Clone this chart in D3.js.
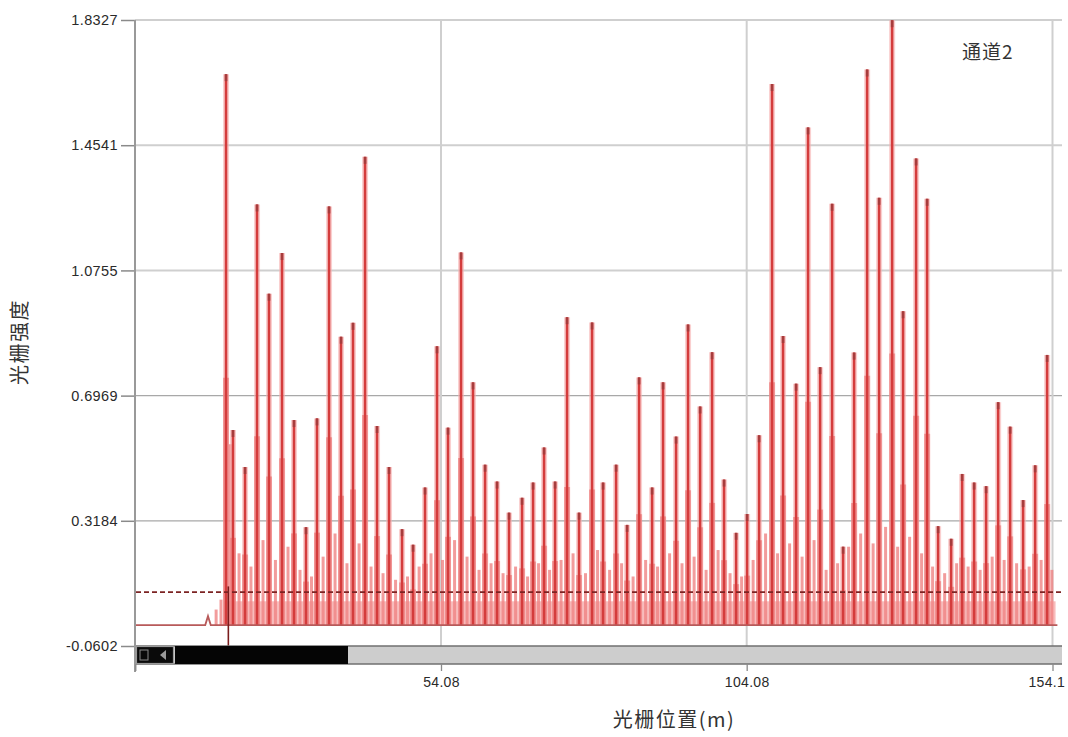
<!DOCTYPE html>
<html><head><meta charset="utf-8">
<script src="https://cdn.jsdelivr.net/npm/d3@7"></script>
<style>body{margin:0;background:#fff}svg{display:block}</style>
</head><body><svg id="c" width="1068" height="737"></svg>
<script>
// ---- data ----
const yTicks = [1.8327, 1.4541, 1.0755, 0.6969, 0.3184, -0.0602];
const yTickLabels = ["1.8327", "1.4541", "1.0755", "0.6969", "0.3184", "-0.0602"];
const xTicks = [4.08, 54.08, 104.08, 154.1];
const xTickLabels = ["", "54.08", "104.08", "154.1"];
const seriesName = "通道2";
const xTitle = "光栅位置(m)";
const yTitle = "光栅强度";
const baseline = 0.003;
const threshold = 0.103;
const peakPos = [18.92,20.06,22.03,23.99,25.95,28.08,30.04,32.00,33.80,35.77,
  37.73,39.69,41.66,43.62,45.58,47.71,49.51,51.47,53.43,55.23,
  57.36,59.32,61.29,63.25,65.21,67.34,69.14,70.94,72.74,74.70,
  76.66,78.79,80.59,82.72,84.52,86.48,88.61,90.40,92.53,94.49,
  96.46,98.42,100.38,102.35,104.15,106.11,108.23,110.03,112.16,114.12,
  116.09,118.05,119.85,121.65,123.78,125.74,127.87,129.66,131.79,133.59,
  135.39,137.52,139.32,141.28,143.24,145.21,147.17,149.29,151.26,153.22];
const peakVal = [1.669,0.593,0.481,1.275,1.005,1.128,0.623,0.299,0.628,1.269,
  0.875,0.917,1.419,0.605,0.481,0.293,0.246,0.419,0.846,0.600,
  1.130,0.737,0.488,0.437,0.343,0.388,0.434,0.540,0.437,0.934,
  0.343,0.918,0.434,0.488,0.306,0.752,0.419,0.737,0.573,0.912,
  0.664,0.828,0.443,0.282,0.339,0.577,1.639,0.877,0.733,1.508,
  0.783,1.277,0.240,0.827,1.683,1.295,1.832,0.952,1.414,1.292,
  0.302,0.264,0.460,0.434,0.423,0.677,0.603,0.381,0.486,0.820];
const minorPos = [17.3,18.1,19.6,21.05,23.0,24.97,27.0,29.06,31.02,32.9,34.8,36.75,38.7,
  40.68,42.64,44.6,46.65,48.6,50.5,52.45,54.33,56.3,58.34,60.3,62.27,64.23,66.28,
  68.24,70.04,71.84,73.72,75.68,77.72,79.69,81.66,83.62,85.5,87.55,89.5,91.47,93.5,
  95.48,97.44,99.4,101.36,103.25,105.13,107.17,109.13,111.1,113.14,115.1,117.07,
  118.95,120.75,122.72,124.76,126.8,128.77,130.73,132.69,134.49,136.46,138.42,
  140.3,142.26,144.23,146.19,148.23,150.28,152.24,154.0];
const minorVal = [0.05,0.08,0.55,0.22,0.18,0.26,0.20,0.24,0.17,0.15,0.21,0.28,0.19,
  0.25,0.18,0.16,0.14,0.15,0.18,0.22,0.20,0.26,0.21,0.17,0.19,0.16,0.18,
  0.15,0.19,0.17,0.20,0.22,0.16,0.23,0.17,0.19,0.15,0.20,0.18,0.22,0.19,
  0.21,0.17,0.23,0.16,0.15,0.20,0.28,0.22,0.25,0.21,0.26,0.17,
  0.19,0.24,0.28,0.25,0.30,0.24,0.27,0.22,0.18,0.16,0.19,
  0.18,0.17,0.21,0.20,0.19,0.18,0.20,0.17];
const bumpPos = [15.97], bumpVal = [0.03];
const dipPos = [19.3], dipVal = [-0.068];
const noiseRange = [18.6, 154.6], noiseLevel = 0.075;

// ---- layout ----
const svg = d3.select("#c");
const x = d3.scaleLinear().domain([4.08, 154.1]).range([135.3, 1052.5]);
const y = d3.scaleLinear().domain([-0.0602, 1.8327]).range([646, 20]);
const plotRight = 1062;
const font = "'Liberation Sans', Arial, sans-serif";
const cjk = "'Noto Sans CJK SC', sans-serif";
const shoulder = 0.45; // lower, wider part of each peak (drawing style)

// horizontal grid
svg.append("g").selectAll("line").data(yTicks.slice(0, 5)).join("line")
  .attr("x1", 135).attr("x2", plotRight)
  .attr("y1", d => y(d)).attr("y2", d => y(d))
  .attr("stroke", (d, i) => i < 3 ? "#cfcfcf" : "#a8a8a8")
  .attr("stroke-width", (d, i) => i < 3 ? 2 : 1.3);
// vertical grid
svg.append("g").selectAll("line").data(xTicks.slice(1)).join("line")
  .attr("x1", d => x(d)).attr("x2", d => x(d))
  .attr("y1", y(1.8327)).attr("y2", y(-0.0602))
  .attr("stroke", "#cfcfcf").attr("stroke-width", 2);

// noise floor band
svg.append("rect")
  .attr("x", x(noiseRange[0])).attr("width", x(noiseRange[1]) - x(noiseRange[0]))
  .attr("y", y(noiseLevel)).attr("height", y(baseline) - y(noiseLevel))
  .attr("fill", "#f8bcbc");

// minor peaks
svg.append("g").selectAll("line").data(minorPos).join("line")
  .attr("x1", d => x(d)).attr("x2", d => x(d))
  .attr("y1", y(baseline)).attr("y2", (d, i) => y(minorVal[i]))
  .attr("stroke", "#f08484").attr("stroke-width", 3).attr("opacity", 0.8);

// major halos
svg.append("g").selectAll("line").data(peakPos).join("line")
  .attr("x1", d => x(d)).attr("x2", d => x(d))
  .attr("y1", y(baseline)).attr("y2", (d, i) => y(peakVal[i]))
  .attr("stroke", "#f7b0b0").attr("stroke-width", 6).attr("opacity", 0.6);
// shoulders
svg.append("g").selectAll("line").data(peakPos).join("line")
  .attr("x1", d => x(d)).attr("x2", d => x(d))
  .attr("y1", y(baseline)).attr("y2", (d, i) => y(peakVal[i] * shoulder))
  .attr("stroke", "#ee7c7c").attr("stroke-width", 6).attr("opacity", 0.7);
// major cores
svg.append("g").selectAll("line").data(peakPos).join("line")
  .attr("x1", d => x(d)).attr("x2", d => x(d))
  .attr("y1", y(baseline)).attr("y2", (d, i) => y(peakVal[i]))
  .attr("stroke", "#d43c3c").attr("stroke-width", 2.6);
// dark tips
svg.append("g").selectAll("line").data(peakPos).join("line")
  .attr("x1", d => x(d)).attr("x2", d => x(d))
  .attr("y1", (d, i) => y(peakVal[i]) + 7).attr("y2", (d, i) => y(peakVal[i]))
  .attr("stroke", "#a63c3c").attr("stroke-width", 2.6);

// baseline trace with pre-bump and dip
const trace = [[4.08, baseline], [bumpPos[0] - 0.45, baseline], [bumpPos[0], bumpVal[0]],
  [bumpPos[0] + 0.45, baseline], [154.9, baseline]];
svg.append("path").datum(trace)
  .attr("d", d3.line().x(d => x(d[0])).y(d => y(d[1])))
  .attr("fill", "none").attr("stroke", "#b85a5a").attr("stroke-width", 1.8);
svg.append("g").selectAll("line").data(dipPos).join("line")
  .attr("x1", d => x(d)).attr("x2", d => x(d))
  .attr("y1", y(0.12)).attr("y2", (d, i) => y(dipVal[i]))
  .attr("stroke", "#7a1c1c").attr("stroke-width", 1.6);

// threshold dashed line
svg.append("line")
  .attr("x1", 136).attr("x2", plotRight)
  .attr("y1", y(threshold)).attr("y2", y(threshold))
  .attr("stroke", "#7c2323").attr("stroke-width", 1.8)
  .attr("stroke-dasharray", "5,3");

// scrollbar
const sbY = y(-0.0602), sbH = 18;
svg.append("rect").attr("x", 135).attr("y", sbY).attr("width", plotRight - 135).attr("height", sbH)
  .attr("fill", "#cdcdcd");
svg.append("line").attr("x1", 135).attr("x2", plotRight).attr("y1", sbY).attr("y2", sbY)
  .attr("stroke", "#6f6f6f").attr("stroke-width", 1.5);
svg.append("line").attr("x1", 135).attr("x2", plotRight).attr("y1", sbY + sbH).attr("y2", sbY + sbH)
  .attr("stroke", "#6f6f6f").attr("stroke-width", 1.5);
svg.append("rect").attr("x", 175).attr("y", sbY).attr("width", 173).attr("height", sbH).attr("fill", "#050505");
svg.append("rect").attr("x", 136.5).attr("y", sbY + 0.5).attr("width", 37).attr("height", sbH - 1)
  .attr("fill", "#0a0a0a").attr("stroke", "#9a9a9a").attr("stroke-width", 1.2);
svg.append("rect").attr("x", 140).attr("y", sbY + 4).attr("width", 8).attr("height", 10)
  .attr("fill", "none").attr("stroke", "#8a8a8a").attr("stroke-width", 1);
svg.append("path").attr("d", `M166,${sbY + 4}L160,${sbY + 9}L166,${sbY + 14}Z`).attr("fill", "#9a9a9a");

// y axis
const ya = svg.append("g").attr("transform", "translate(135,0)")
  .call(d3.axisLeft(y).tickValues(yTicks).tickSize(14).tickPadding(3)
    .tickFormat((d, i) => yTickLabels[i]));
ya.select(".domain").remove();
ya.selectAll(".tick line").attr("stroke", "#8a8a8a").attr("stroke-width", 1.5);
ya.selectAll("text").attr("font-family", font).attr("font-size", 14.5)
  .attr("letter-spacing", 0.4).attr("fill", "#2a2a2a");
svg.append("line").attr("x1", 135).attr("x2", 135).attr("y1", 20).attr("y2", 672)
  .attr("stroke", "#999").attr("stroke-width", 2);

// x axis
const xa = svg.append("g").attr("transform", `translate(0,${sbY + sbH})`)
  .call(d3.axisBottom(x).tickValues(xTicks).tickSize(7).tickPadding(6)
    .tickFormat((d, i) => xTickLabels[i]));
xa.select(".domain").remove();
xa.selectAll(".tick line").attr("stroke", "#8a8a8a").attr("stroke-width", 1.3);
xa.selectAll("text").attr("font-family", font).attr("font-size", 14)
  .attr("letter-spacing", 0.3).attr("fill", "#2a2a2a");
// keep the last label inside the page, as in the reference
xa.selectAll("text").filter((d, i) => i === xTicks.length - 1)
  .attr("text-anchor", "end").attr("dx", 12);

// titles
svg.append("text").attr("x", 674).attr("y", 727).attr("text-anchor", "middle")
  .attr("font-family", cjk).attr("font-size", 20).attr("letter-spacing", 1.5)
  .attr("fill", "#333").text(xTitle);
svg.append("text").attr("transform", "translate(27,342) rotate(-90)").attr("text-anchor", "middle")
  .attr("font-family", cjk).attr("font-size", 20).attr("letter-spacing", 1.5)
  .attr("fill", "#333").text(yTitle);
svg.append("text").attr("x", 962).attr("y", 59)
  .attr("font-family", cjk).attr("font-size", 19).attr("letter-spacing", 1)
  .attr("fill", "#333").text(seriesName);
</script></body></html>
